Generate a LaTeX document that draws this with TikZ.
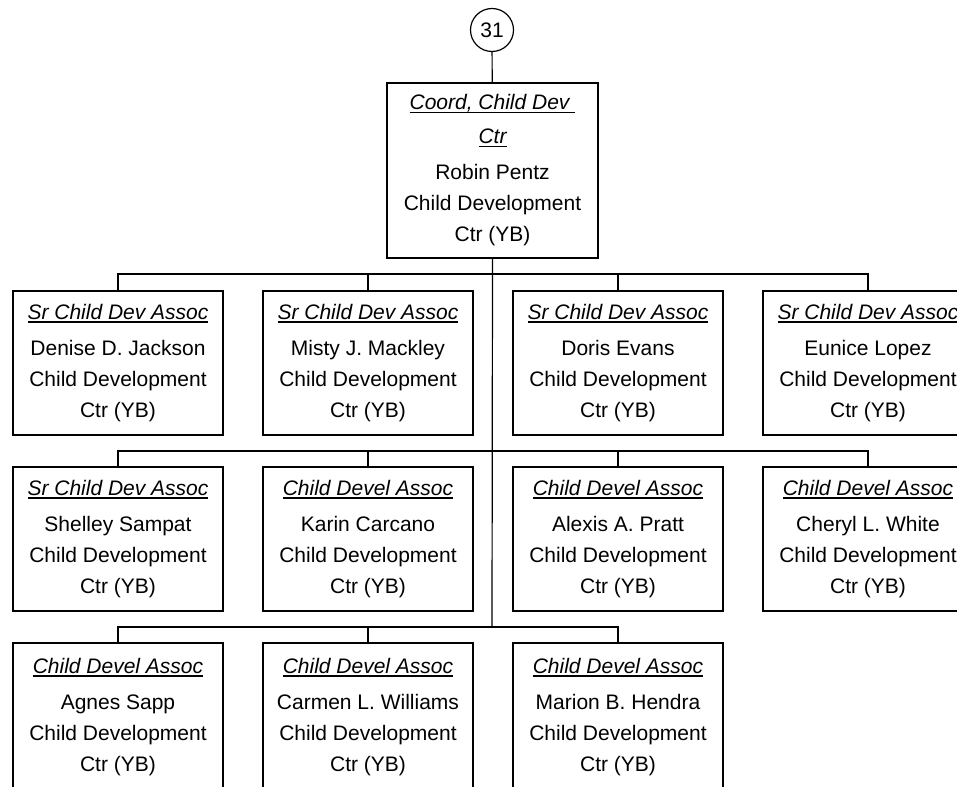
\documentclass[tikz,border=0pt]{standalone}
\usepackage{fontspec}
\setmainfont{Liberation Sans}
\newcommand{\ulit}[1]{\setbox0\hbox{\itshape #1}\rlap{\rule[-3.5pt]{\wd0}{1.5pt}}\box0}
\tikzset{
  box/.style={draw, line width=1.2pt, minimum width=210pt, minimum height=144pt,
    inner sep=0pt, align=center, font=\fontsize{21}{31}\selectfont},
  lastrow/.style={minimum height=148pt},
  conn/.style={line width=1.2pt},
  circ/.style={draw, circle, line width=1.2pt, minimum size=43pt, inner sep=0pt,
    font=\fontsize{21}{25}\selectfont}
}
\begin{document}
\begin{tikzpicture}[x=1pt,y=-1pt]
\useasboundingbox (0,0) rectangle (957,786);
\clip (0,0) rectangle (957,786);
% top
\node[circ] (c31) at (492,30) {31};
\node[box, minimum width=211pt, minimum height=175pt] (top) at (492.5,170.5)
  {\ulit{Coord, Child Dev\ }\\[3pt] \ulit{Ctr}\\[5pt] Robin Pentz\\ Child Development\\ Ctr (YB)};
% row 1
\node[box] (a1) at (118,363) {\ulit{Sr Child Dev Assoc}\\[5pt] Denise D. Jackson\\ Child Development\\ Ctr (YB)};
\node[box] (a2) at (368,363) {\ulit{Sr Child Dev Assoc}\\[5pt] Misty J. Mackley\\ Child Development\\ Ctr (YB)};
\node[box] (a3) at (618,363) {\ulit{Sr Child Dev Assoc}\\[5pt] Doris Evans\\ Child Development\\ Ctr (YB)};
\node[box] (a4) at (868,363) {\ulit{Sr Child Dev Assoc}\\[5pt] Eunice Lopez\\ Child Development\\ Ctr (YB)};
% row 2
\node[box] (b1) at (118,539) {\ulit{Sr Child Dev Assoc}\\[5pt] Shelley Sampat\\ Child Development\\ Ctr (YB)};
\node[box] (b2) at (368,539) {\ulit{Child Devel Assoc}\\[5pt] Karin Carcano\\ Child Development\\ Ctr (YB)};
\node[box] (b3) at (618,539) {\ulit{Child Devel Assoc}\\[5pt] Alexis A. Pratt\\ Child Development\\ Ctr (YB)};
\node[box] (b4) at (868,539) {\ulit{Child Devel Assoc}\\[5pt] Cheryl L. White\\ Child Development\\ Ctr (YB)};
% row 3 (cut off at the bottom edge)
\node[box, lastrow] (d1) at (118,717) {\ulit{Child Devel Assoc}\\[5pt] Agnes Sapp\\ Child Development\\ Ctr (YB)};
\node[box, lastrow] (d2) at (368,717) {\ulit{Child Devel Assoc}\\[5pt] Carmen L. Williams\\ Child Development\\ Ctr (YB)};
\node[box, lastrow] (d3) at (618,717) {\ulit{Child Devel Assoc}\\[5pt] Marion B. Hendra\\ Child Development\\ Ctr (YB)};
% buses
\coordinate (bus1) at (492,274);
\coordinate (bus2) at (492,451);
\coordinate (bus3) at (492,627);
\draw[conn] (c31) -- (top);
\draw[conn] (top.south) -- (bus3);
\draw[conn] (a1.north) |- (bus1) -| (a4.north);
\draw[conn] (a2.north) |- (bus1);
\draw[conn] (a3.north) |- (bus1);
\draw[conn] (b1.north) |- (bus2) -| (b4.north);
\draw[conn] (b2.north) |- (bus2);
\draw[conn] (b3.north) |- (bus2);
\draw[conn] (d1.north) |- (bus3) -| (d3.north);
\draw[conn] (d2.north) |- (bus3);
\end{tikzpicture}
\end{document}
